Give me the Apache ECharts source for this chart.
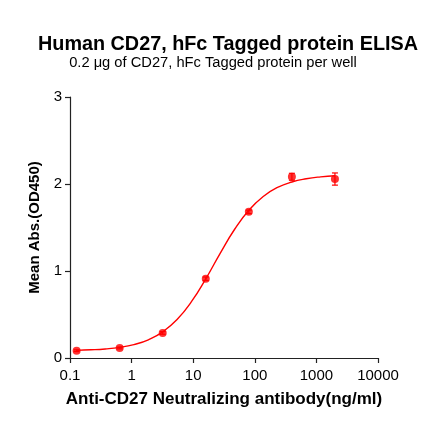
<!DOCTYPE html>
<html>
<head>
<meta charset="utf-8">
<script src="https://cdn.jsdelivr.net/npm/echarts@6/dist/echarts.min.js"></script>
<style>
html,body{margin:0;padding:0;background:#fff;}
#main{width:440px;height:441px;}
</style>
</head>
<body>
<div id="main"></div>
<script>
// measured points (ng/ml, OD450)
var doseX = [0.128, 0.64, 3.2, 16, 80, 400, 2000];
var meanOD = [0.084, 0.115, 0.288, 0.911, 1.68, 2.083, 2.057];
var errOD = [0.01, 0.01, 0.015, 0.02, 0.02, 0.04, 0.07];
// fitted curve
var curveX = [0.128, 0.219, 0.374, 0.64, 1.09, 1.87, 3.2, 5.47, 9.36, 16, 27.4, 46.8, 80, 137, 234, 400, 684, 1170, 2000];
var curveY = [0.088, 0.094, 0.104, 0.122, 0.154, 0.209, 0.300, 0.442, 0.647, 0.910, 1.203, 1.477, 1.699, 1.857, 1.960, 2.023, 2.060, 2.082, 2.094];
var xTicks = [0.1, 1, 10, 100, 1000, 10000];
var yTicks = [0, 1, 2, 3];

var fontFam = 'Liberation Sans, Arial, sans-serif';
var axisColor = '#222';

var myChart = echarts.init(document.getElementById('main'));
var points = doseX.map(function(x, i){ return [x, meanOD[i]]; });
var curve = curveX.map(function(x, i){ return [x, curveY[i]]; });
var errData = doseX.map(function(x, i){ return [x, meanOD[i] - errOD[i], meanOD[i] + errOD[i]]; });

var option = {
    animation: false,
    title: [
        {
            text: 'Human CD27, hFc Tagged protein ELISA',
            left: 223, top: 30, textAlign: 'center',
            textStyle: {fontFamily: fontFam, fontSize: 19.8, fontWeight: 'bold', color: '#000'}
        },
        {
            text: '0.2 μg of CD27, hFc Tagged protein per well',
            left: 208, top: 50, textAlign: 'center',
            textStyle: {fontFamily: fontFam, fontSize: 14.7, fontWeight: 'normal', color: '#000'}
        }
    ],
    grid: {left: 70, right: 62, top: 97, bottom: 83},
    xAxis: {
        type: 'log',
        logBase: 10,
        min: xTicks[0],
        max: xTicks[xTicks.length - 1],
        name: 'Anti-CD27 Neutralizing antibody(ng/ml)',
        nameLocation: 'middle',
        nameGap: 33,
        nameTextStyle: {fontFamily: fontFam, fontSize: 17, fontWeight: 'bold', color: '#000'},
        axisLine: {lineStyle: {color: axisColor, width: 1.2}},
        axisTick: {show: true, length: 5, lineStyle: {color: axisColor, width: 1.2}},
        minorTick: {show: false},
        splitLine: {show: false},
        axisLabel: {fontFamily: fontFam, fontSize: 15, color: '#000', margin: 10,
            formatter: function(v){ return String(v); }}
    },
    yAxis: {
        type: 'value',
        min: yTicks[0],
        max: yTicks[yTicks.length - 1],
        interval: 1,
        name: 'Mean Abs.(OD450)',
        nameLocation: 'middle',
        nameGap: 24,
        nameTextStyle: {fontFamily: fontFam, fontSize: 15, fontWeight: 'bold', color: '#000'},
        axisLine: {show: true, lineStyle: {color: axisColor, width: 1.2}},
        axisTick: {show: true, length: 5, lineStyle: {color: axisColor, width: 1.2}},
        splitLine: {show: false},
        axisLabel: {fontFamily: fontFam, fontSize: 15, color: '#000', margin: 8}
    },
    series: [
        {
            name: 'fit',
            type: 'line',
            data: curve,
            smooth: true,
            showSymbol: false,
            lineStyle: {color: '#ff0000', width: 1.4},
            z: 2
        },
        {
            name: 'err',
            type: 'custom',
            data: errData,
            renderItem: function(params, api){
                var lo = api.coord([api.value(0), api.value(1)]);
                var hi = api.coord([api.value(0), api.value(2)]);
                var w = 3;
                var st = {stroke: '#ff0000', lineWidth: 1.2};
                return {
                    type: 'group',
                    children: [
                        {type: 'line', shape: {x1: lo[0], y1: lo[1], x2: hi[0], y2: hi[1]}, style: st},
                        {type: 'line', shape: {x1: lo[0] - w, y1: lo[1], x2: lo[0] + w, y2: lo[1]}, style: st},
                        {type: 'line', shape: {x1: hi[0] - w, y1: hi[1], x2: hi[0] + w, y2: hi[1]}, style: st}
                    ]
                };
            },
            z: 3
        },
        {
            name: 'mean',
            type: 'scatter',
            data: points,
            symbol: 'circle',
            symbolSize: 8,
            itemStyle: {color: '#ff0000'},
            z: 4
        }
    ]
};
myChart.setOption(option);
</script>
</body>
</html>
